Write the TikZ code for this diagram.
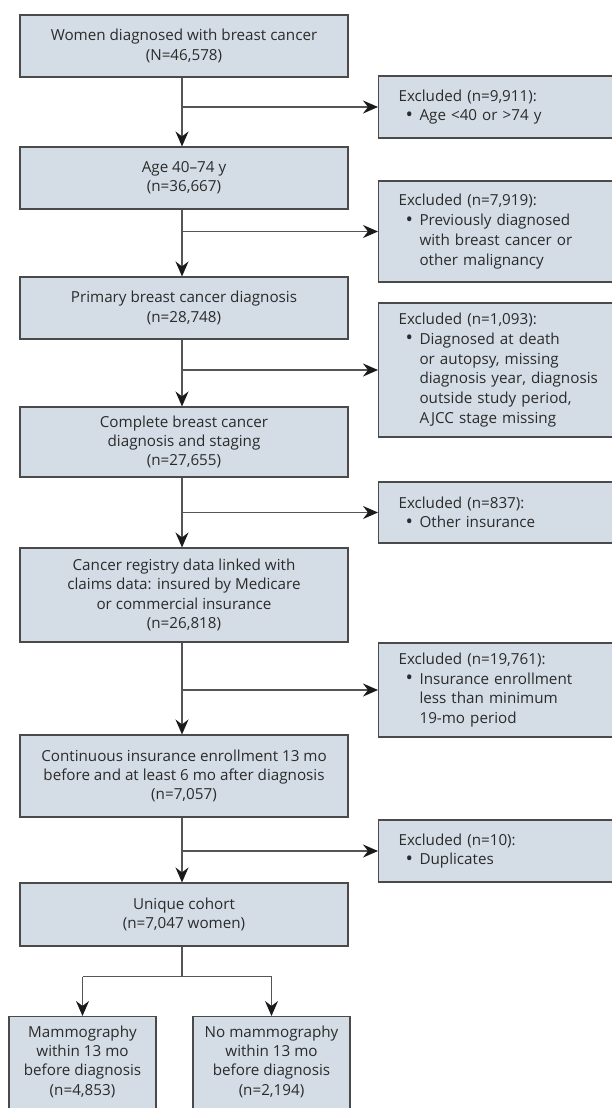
\documentclass[tikz,border=0pt]{standalone}
\usepackage{fontspec}
\setmainfont{Open Sans}
\usetikzlibrary{arrows.meta}
\definecolor{boxfill}{HTML}{D4DDE6}
\definecolor{boxline}{HTML}{4A4A4A}
\definecolor{txtc}{HTML}{2B2B2B}
\definecolor{connc}{HTML}{555555}
\definecolor{tipc}{HTML}{1A1A1A}
\newcommand\bul{\makebox[21pt][l]{\hspace{7pt}\raisebox{-0.5pt}{\scalebox{1.3}{\textbullet}}}}
\newcommand\ind{\hspace*{21pt}}
\tikzset{
  mainbox/.style={draw=boxline, fill=boxfill, line width=1.1pt, minimum width=328pt,
    align=center, inner sep=0pt, text=txtc, font=\fontsize{15.2}{19.3}\selectfont},
  exbox/.style={draw=boxline, fill=boxfill, line width=1.1pt, anchor=west,
    text width=202pt, inner xsep=20pt, inner ysep=0pt, align=left, text=txtc,
    font=\fontsize{15.2}{19.7}\selectfont},
  smallbox/.style={draw=boxline, fill=boxfill, line width=1.1pt, anchor=north, minimum height=110pt},
  txt/.style={align=center, inner sep=0pt, text=txtc, font=\fontsize{15.2}{19.3}\selectfont},
  conn/.style={draw=connc, line width=1.2pt},
  arr/.style={conn, -{Stealth[length=15pt, width=13pt, inset=5pt, color=tipc, fill=tipc]}}
}
\begin{document}
\begin{tikzpicture}[x=1pt, y=-1pt]
\useasboundingbox (0,0) rectangle (611,1108);
% main boxes
\node[mainbox, minimum height=62pt] (b1) at (184,46) {Women diagnosed with breast cancer\\(N=46,578)};
\node[mainbox, minimum height=62pt] (b2) at (184,178) {Age 40--74 y\\(n=36,667)};
\node[mainbox, minimum height=62pt] (b3) at (184,308) {Primary breast cancer diagnosis\\(n=28,748)};
\node[mainbox, minimum height=70pt] (b4) at (184,442) {Complete breast cancer\\diagnosis and staging\\(n=27,655)};
\node[mainbox, minimum height=94pt] (b5) at (184,595) {Cancer registry data linked with\\claims data: insured by Medicare\\or commercial insurance\\(n=26,818)};
\node[mainbox, minimum height=82pt] (b6) at (184,776) {Continuous insurance enrollment 13 mo\\before and at least 6 mo after diagnosis\\(n=7,057)};
\node[mainbox, minimum height=63pt] (b7) at (184,914.5) {Unique cohort\\(n=7,047 women)};
% exclusion boxes
\node[exbox, minimum height=62pt] (e1) at (378,107) {Excluded (n=9,911):\\\bul Age {<}40 or {>}74 y};
\node[exbox, minimum height=101pt] (e2) at (378,231.5) {Excluded (n=7,919):\\\bul Previously diagnosed\\\ind with breast cancer or\\\ind other malignancy};
\node[exbox, minimum height=134pt] (e3) at (378,370) {Excluded (n=1,093):\\\bul Diagnosed at death\\\ind or autopsy, missing\\\ind diagnosis year, diagnosis\\\ind outside study period,\\\ind AJCC stage missing};
\node[exbox, minimum height=61pt] (e4) at (378,512.5) {Excluded (n=837):\\\bul Other insurance};
\node[exbox, minimum height=94pt] (e5) at (378,690) {Excluded (n=19,761):\\\bul Insurance enrollment\\\ind less than minimum\\\ind 19-mo period};
\node[exbox, minimum height=62pt] (e6) at (378,851) {Excluded (n=10):\\\bul Duplicates};
% bottom boxes
\node[smallbox, minimum width=147pt] (m1) at (82.5,1016) {};
\node[smallbox, minimum width=157pt] (m2) at (271.5,1016) {};
\path (m1.north) ++(0,45.5) node[txt] (t1) {Mammography\\within 13 mo\\before diagnosis\\(n=4,853)};
\path (m2.north) ++(0,45.5) node[txt] (t2) {No mammography\\within 13 mo\\before diagnosis\\(n=2,194)};
% connectors
\foreach \a/\b/\e in {b1/b2/e1, b2/b3/e2, b3/b4/e3, b4/b5/e4, b5/b6/e5, b6/b7/e6}{
  \draw[arr] ([xshift=-2pt]\a.south) -- ([xshift=-2pt]\b.north);
  \draw[arr] ([xshift=-2pt]\a.south |- \e.west) -- (\e.west);
}
\draw[conn] ([xshift=-2pt]b7.south) -- ++(0,30) coordinate (split);
\draw[conn] (m1.north |- split) -- (m2.north |- split);
\draw[arr] (m1.north |- split) -- (m1.north);
\draw[arr] (m2.north |- split) -- (m2.north);
\end{tikzpicture}
\end{document}
